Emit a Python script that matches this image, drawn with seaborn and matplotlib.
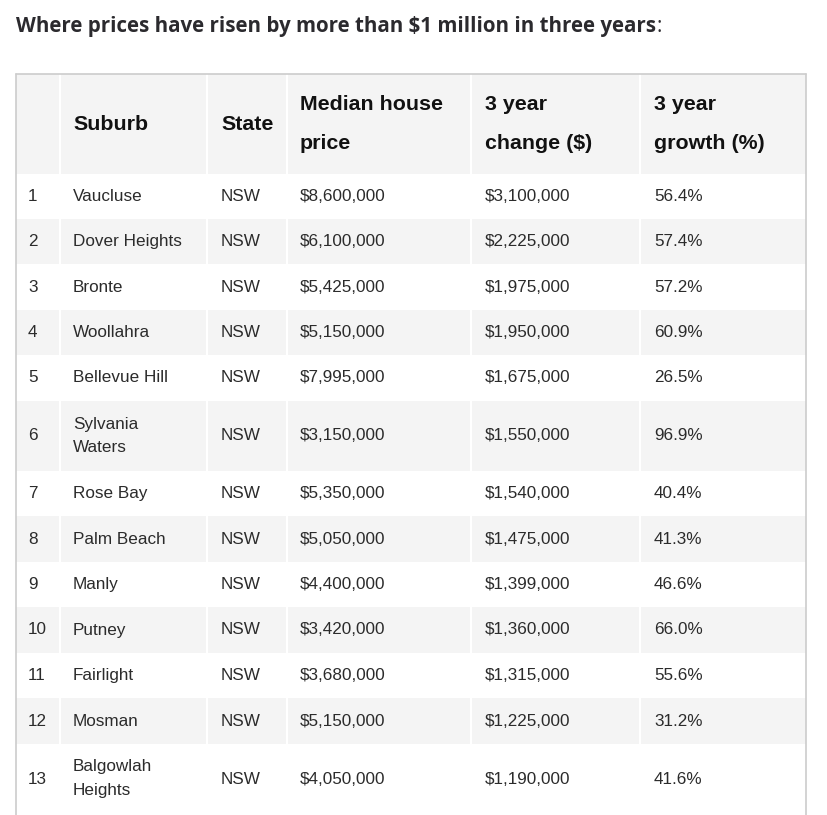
import matplotlib
matplotlib.use("Agg")
import matplotlib.pyplot as plt
from matplotlib.patches import Rectangle
import seaborn as sns

sns.set_style("white")
plt.rcParams['font.family'] = ['Liberation Sans', 'DejaVu Sans']

# ---- data ----
title = "Where prices have risen by more than $1 million in three years"
headers = ["", "Suburb", "State", "Median house\nprice", "3 year\nchange ($)", "3 year\ngrowth (%)"]
ranks = [str(i) for i in range(1, 14)]
suburbs = ["Vaucluse", "Dover Heights", "Bronte", "Woollahra", "Bellevue Hill",
           "Sylvania\nWaters", "Rose Bay", "Palm Beach", "Manly", "Putney",
           "Fairlight", "Mosman", "Balgowlah\nHeights"]
states = ["NSW"] * 13
median_price = ["$8,600,000", "$6,100,000", "$5,425,000", "$5,150,000", "$7,995,000",
                "$3,150,000", "$5,350,000", "$5,050,000", "$4,400,000", "$3,420,000",
                "$3,680,000", "$5,150,000", "$4,050,000"]
change = ["$3,100,000", "$2,225,000", "$1,975,000", "$1,950,000", "$1,675,000",
          "$1,550,000", "$1,540,000", "$1,475,000", "$1,399,000", "$1,360,000",
          "$1,315,000", "$1,225,000", "$1,190,000"]
growth = ["56.4%", "57.4%", "57.2%", "60.9%", "26.5%", "96.9%", "40.4%",
          "41.3%", "46.6%", "66.0%", "55.6%", "31.2%", "41.6%"]

# ---- layout (pixels) ----
W, H = 827, 815
col_edges = [16, 60, 207, 287, 471, 640, 806]
text_x = [28, 73, 221, 300, 485, 654]
row_edges = [74, 174, 219, 264, 310, 355, 401, 471, 516, 562, 607, 653, 698, 744, 830]
shade = "#f4f4f4"
border = "#cccccc"
title_font = ["Open Sans", "DejaVu Sans"]
title_target_end = 659
title_y = 26.5

fig = plt.figure(figsize=(W / 100, H / 100), dpi=100)
ax = fig.add_axes([0, 0, 1, 1])
ax.set_xlim(0, W)
ax.set_ylim(H, 0)
ax.axis("off")

tt = ax.text(16, title_y, title, fontsize=14, fontweight="bold", color="#2b2a2e",
             va="center", ha="left", family=title_font)

# fit title width to the reference
fig.canvas.draw()
renderer = fig.canvas.get_renderer()
bb = tt.get_window_extent(renderer=renderer)
w_now = bb.x1 - bb.x0
tt.set_fontsize(14 * (title_target_end - 16) / w_now)
fig.canvas.draw()
bb = tt.get_window_extent(renderer=renderer)
x_end = ax.transData.inverted().transform((bb.x1, 0))[0]
ax.text(x_end + 1, title_y, ":", fontsize=tt.get_fontsize(), color="#2b2a2e",
        va="center", ha="left", family=title_font)

columns = [ranks, suburbs, states, median_price, change, growth]
nrows = len(ranks)

# shaded rows: header and even rows, with white gaps between cells
for r in range(nrows + 1):
    shaded = (r == 0) or (r % 2 == 0)
    if not shaded:
        continue
    y0, y1 = row_edges[r], row_edges[r + 1]
    for c in range(len(col_edges) - 1):
        x0 = col_edges[c] + (1 if c > 0 else 0)
        x1 = col_edges[c + 1] - (1 if c < len(col_edges) - 2 else 0)
        ax.add_patch(Rectangle((x0, y0), x1 - x0, y1 - y0, facecolor=shade,
                               edgecolor="none", zorder=1))

# outer border
ax.plot([16, 806], [74, 74], color=border, lw=1.2, zorder=3)
ax.plot([16, 16], [74, H], color=border, lw=1.2, zorder=3)
ax.plot([806, 806], [74, H], color=border, lw=1.2, zorder=3)

# header text
hy = (row_edges[0] + row_edges[1]) / 2
for c, h in enumerate(headers):
    if not h:
        continue
    lines = h.split("\n")
    if len(lines) == 1:
        ax.text(text_x[c], hy, h, fontsize=15.4, fontweight="bold", color="#111111",
                va="center", ha="left", zorder=4)
    else:
        for k, ln in enumerate(lines):
            ax.text(text_x[c], hy - 19.5 + 39 * k, ln, fontsize=15.4, fontweight="bold",
                    color="#111111", va="center", ha="left", zorder=4)

# body text
for r in range(nrows):
    y0, y1 = row_edges[r + 1], row_edges[r + 2]
    yc = (y0 + y1) / 2
    if r == nrows - 1:
        yc = 779
    for c, col in enumerate(columns):
        val = col[r]
        lines = val.split("\n")
        if len(lines) == 1:
            ax.text(text_x[c], yc, val, fontsize=12.3, color="#2b2b2b",
                    va="center", ha="left", zorder=4)
        else:
            for k, ln in enumerate(lines):
                ax.text(text_x[c], yc - 12 + 24 * k, ln, fontsize=12.3, color="#2b2b2b",
                        va="center", ha="left", zorder=4)

fig.savefig("out.png", dpi=100, facecolor="white")
